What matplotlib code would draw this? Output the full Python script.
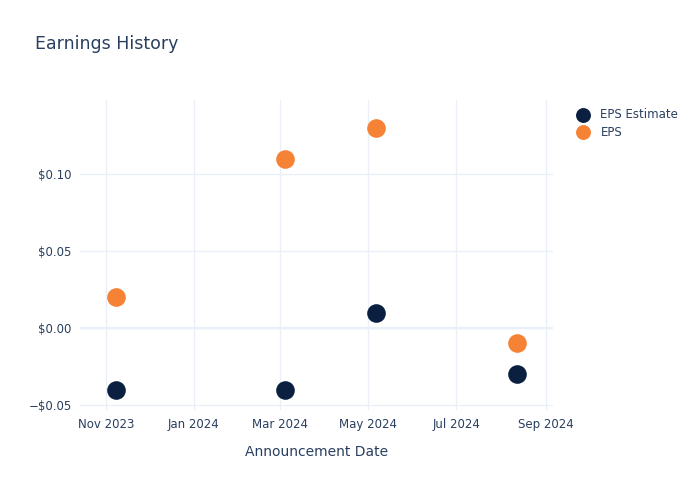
import matplotlib
matplotlib.use("Agg")
import matplotlib.pyplot as plt
import matplotlib.dates as mdates
import matplotlib.ticker as mticker
import numpy as np
from datetime import datetime

dates = ["2023-11-08", "2024-03-04", "2024-05-06", "2024-08-12"]
eps_estimate = [-0.04, -0.04, 0.01, -0.03]
eps_actual = [0.02, 0.11, 0.13, -0.01]
xtick_labels = ["Nov 2023", "Jan 2024", "Mar 2024", "May 2024", "Jul 2024", "Sep 2024"]
xtick_dates = ["2023-11-01", "2024-01-01", "2024-03-01", "2024-05-01", "2024-07-01", "2024-09-01"]
yticks = [-0.05, 0.0, 0.05, 0.10]

x = [datetime.strptime(d, "%Y-%m-%d") for d in dates]
xt = [datetime.strptime(d, "%Y-%m-%d") for d in xtick_dates]

text_color = "#2a3f5f"
grid_color = "#EBF0F8"

fig = plt.figure(figsize=(7, 5), dpi=100)
ax = fig.add_axes([80/700, 1-410/500, (553-80)/700, (410-100)/500])

ax.scatter(x, eps_estimate, s=180, color="#0b1f41", label="EPS Estimate", zorder=3, linewidths=0)
ax.scatter(x, eps_actual, s=180, color="#f58235", label="EPS", zorder=3, linewidths=0)

ax.set_xlim(datetime(2023, 10, 14), datetime(2024, 9, 6))
ax.set_ylim(-0.0533, 0.148)
ax.set_xticks(xt)
ax.set_xticklabels(xtick_labels)
ax.set_yticks(yticks)
ax.yaxis.set_major_formatter(mticker.FuncFormatter(lambda v, p: ("\u2212$%.2f" % abs(v)) if v < -1e-9 else "$%.2f" % abs(v)))

ax.grid(True, color=grid_color, linewidth=1, zorder=0)
ax.axhline(0, color=grid_color, linewidth=1.6, zorder=1)
for s in ax.spines.values():
    s.set_visible(False)
ax.tick_params(axis="both", length=0, labelsize=8.5, colors=text_color, pad=6)
ax.set_xlabel("Announcement Date", fontsize=10, color=text_color, labelpad=10)

fig.text(35/700, 1-44/500, "Earnings History", fontsize=12.5, color=text_color, va="center", ha="left")

leg = ax.legend(loc="upper left", bbox_to_anchor=(1.028, 0.99), frameon=False, fontsize=8.5,
                labelcolor=text_color, handletextpad=0.5, borderaxespad=0, labelspacing=0.4,
                markerscale=0.8)

fig.savefig("out.png", dpi=100, facecolor="white")
